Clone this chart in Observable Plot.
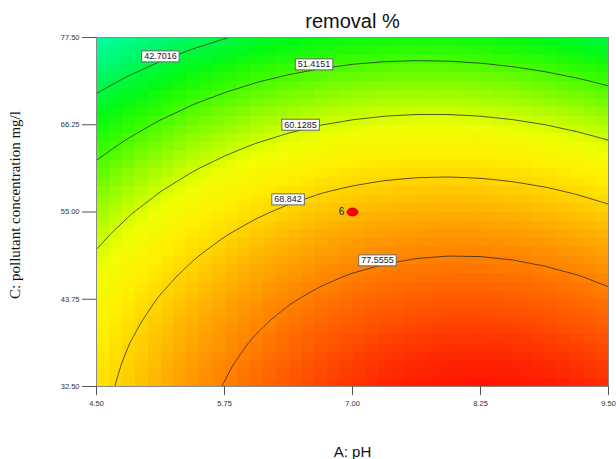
<!DOCTYPE html>
<html>
<head>
<meta charset="utf-8">
<script src="https://cdn.jsdelivr.net/npm/d3@7"></script>
<script src="https://cdn.jsdelivr.net/npm/@observablehq/plot@0.6"></script>
<style>
  html, body { margin: 0; padding: 0; background: #fff; }
  #chart svg { display: block; }
</style>
</head>
<body>
<div id="chart"></div>
<script>
// ---- data ----
const phLevels = [4.5, 4.8125, 5.125, 5.4375, 5.75, 6.0625, 6.375, 6.6875, 7,
                  7.3125, 7.625, 7.9375, 8.25, 8.5625, 8.875, 9.1875, 9.5];
const concLevels = [32.5, 35.3125, 38.125, 40.9375, 43.75, 46.5625, 49.375, 52.1875, 55,
                    57.8125, 60.625, 63.4375, 66.25, 69.0625, 71.875, 74.6875, 77.5];
// removal % estimated on the grid: one row per concLevels entry, one column per phLevels entry
const removal = [
  [67.09, 70.15, 72.94, 75.47, 77.73, 79.73, 81.47, 82.94, 84.15, 85.10, 85.78, 86.20, 86.35, 86.24, 85.87, 85.23, 84.33],
  [66.51, 69.53, 72.29, 74.79, 77.02, 78.98, 80.69, 82.13, 83.30, 84.21, 84.86, 85.25, 85.37, 85.22, 84.82, 84.15, 83.21],
  [65.73, 68.72, 71.45, 73.91, 76.10, 78.04, 79.71, 81.11, 82.25, 83.13, 83.75, 84.10, 84.18, 84.01, 83.57, 82.86, 81.89],
  [64.76, 67.71, 70.40, 72.83, 74.99, 76.89, 78.53, 79.90, 81.01, 81.85, 82.43, 82.75, 82.80, 82.59, 82.12, 81.38, 80.38],
  [63.58, 66.50, 69.16, 71.55, 73.68, 75.55, 77.15, 78.49, 79.56, 80.37, 80.92, 81.20, 81.22, 80.98, 80.47, 79.70, 78.66],
  [62.21, 65.10, 67.72, 70.08, 72.17, 74.01, 75.57, 76.88, 77.92, 78.70, 79.21, 79.46, 79.44, 79.17, 78.62, 77.82, 76.75],
  [60.64, 63.49, 66.08, 68.41, 70.47, 72.27, 73.80, 75.07, 76.08, 76.82, 77.30, 77.52, 77.47, 77.16, 76.58, 75.74, 74.64],
  [58.87, 61.69, 64.24, 66.54, 68.56, 70.33, 71.83, 73.07, 74.04, 74.75, 75.19, 75.38, 75.29, 74.95, 74.34, 73.47, 72.33],
  [56.90, 59.69, 62.21, 64.47, 66.46, 68.19, 69.66, 70.86, 71.80, 72.48, 72.89, 73.04, 72.92, 72.54, 71.90, 70.99, 69.82],
  [54.73, 57.49, 59.97, 62.20, 64.16, 65.86, 67.29, 68.46, 69.36, 70.01, 70.38, 70.50, 70.35, 69.94, 69.26, 68.32, 67.11],
  [52.37, 55.09, 57.54, 59.73, 61.66, 63.32, 64.72, 65.86, 66.73, 67.34, 67.68, 67.76, 67.58, 67.13, 66.42, 65.45, 64.21],
  [49.80, 52.49, 54.91, 57.07, 58.96, 60.59, 61.95, 63.06, 63.89, 64.47, 64.78, 64.83, 64.61, 64.13, 63.38, 62.38, 61.10],
  [47.04, 49.69, 52.08, 54.20, 56.06, 57.66, 58.99, 60.06, 60.86, 61.40, 61.68, 61.69, 61.44, 60.93, 60.15, 59.11, 57.80],
  [44.08, 46.70, 49.05, 51.14, 52.97, 54.53, 55.83, 56.86, 57.63, 58.14, 58.38, 58.36, 58.08, 57.53, 56.72, 55.64, 54.30],
  [40.92, 43.51, 45.83, 47.88, 49.67, 51.20, 52.47, 53.47, 54.20, 54.68, 54.89, 54.83, 54.51, 53.93, 53.09, 51.98, 50.60],
  [37.57, 40.12, 42.40, 44.42, 46.18, 47.68, 48.91, 49.87, 50.58, 51.02, 51.19, 51.10, 50.75, 50.14, 49.26, 48.11, 46.71],
  [34.01, 36.53, 38.78, 40.77, 42.49, 43.95, 45.15, 46.08, 46.75, 47.16, 47.30, 47.18, 46.79, 46.14, 45.23, 44.05, 42.75]
];
const contourLevels = [42.7016, 51.4151, 60.1285, 68.842, 77.5555];
const labelTexts = ["42.7016", "51.4151", "60.1285", "68.842", "77.5555"];
const labelPh = [5.124, 6.625, 6.493, 6.371, 7.244];
const labelConc = [75.05, 74.02, 66.24, 56.61, 48.75];
const centerPh = [7.0];
const centerConc = [55.0];
const centerCount = [6];
const xTicks = [4.5, 5.75, 7.0, 8.25, 9.5];
const yTicks = [32.5, 43.75, 55.0, 66.25, 77.5];
const title = "removal %";
const xLabel = "A: pH";
const yLabel = "C: pollutant concentration mg/l";

// colour ramp (blue-green → red, as in the reference)
const colorDomain = [34, 40, 46, 50, 56, 62, 66, 70, 74, 78, 82, 86.3];
const colorRange = ["#00ffa8", "#00f86a", "#00fa14", "#30fc00", "#90fc00", "#f0ff00",
                    "#ffef00", "#ffcd00", "#ffa500", "#ff7d00", "#ff5000", "#ff1400"];

// ---- tables built from the arrays ----
const samples = [];
concLevels.forEach((c, i) => phLevels.forEach((p, j) => samples.push({ph: p, conc: c, v: removal[i][j]})));
const labels = labelTexts.map((t, i) => ({text: t, ph: labelPh[i], conc: labelConc[i]}));
const centers = centerPh.map((p, i) => ({ph: p, conc: centerConc[i], n: centerCount[i]}));

const ellipse = {
  draw(ctx) {
    const rx = 5.5, ry = 4, k = 0.5523;
    ctx.moveTo(rx, 0);
    ctx.bezierCurveTo(rx, ry * k, rx * k, ry, 0, ry);
    ctx.bezierCurveTo(-rx * k, ry, -rx, ry * k, -rx, 0);
    ctx.bezierCurveTo(-rx, -ry * k, -rx * k, -ry, 0, -ry);
    ctx.bezierCurveTo(rx * k, -ry, rx, -ry * k, rx, 0);
    ctx.closePath();
  }
};

const bounds = {x1: 4.5, x2: 9.5, y1: 32.5, y2: 77.5};
const fmt = d3.format(".2f");

const chart = Plot.plot({
  width: 616,
  height: 459,
  marginLeft: 96,
  marginRight: 8,
  marginTop: 37,
  marginBottom: 73,
  style: {fontFamily: "'Liberation Sans', Arial, sans-serif", background: "#fff"},
  x: {domain: [4.5, 9.5]},
  y: {domain: [32.5, 77.5]},
  color: {type: "linear", domain: colorDomain, range: colorRange, clamp: true},
  marks: [
    Plot.raster(samples, {
      x: "ph", y: "conc", fill: "v", interpolate: "barycentric",
      ...bounds, width: 40, height: 40, imageRendering: "pixelated"
    }),
    Plot.contour(samples, {
      x: "ph", y: "conc", value: "v", interpolate: "barycentric",
      ...bounds, pixelSize: 1, thresholds: contourLevels,
      fill: "none", stroke: "#262626", strokeWidth: 0.9, strokeOpacity: 0.85
    }),
    Plot.frame({stroke: "#8a8a8a"}),
    Plot.axisX({ticks: xTicks, tickFormat: fmt, tickSize: 9, tickPadding: 5, fontSize: 7.5, fill: "#333", stroke: "#555", label: null}),
    Plot.axisY({ticks: yTicks, tickFormat: fmt, tickSize: 14, tickPadding: 3, fontSize: 7.5, fill: "#333", stroke: "#555", label: null}),
    Plot.text(labels, {x: "ph", y: "conc", text: "text", fontSize: 9, fill: "#222"}),
    Plot.dot(centers, {x: "ph", y: "conc", symbol: ellipse, fill: "#ff0000", stroke: "#b00000", strokeWidth: 0.8}),
    Plot.text(centers, {x: "ph", y: "conc", text: d => String(d.n), dx: -11, fontSize: 10, fill: "#222"}),
    Plot.text([title], {frameAnchor: "top", lineAnchor: "middle", dy: -16, fontSize: 20, fill: "#111"}),
    Plot.text([xLabel], {frameAnchor: "bottom", lineAnchor: "middle", dy: 66, fontSize: 15, fill: "#111"}),
    Plot.text([yLabel], {frameAnchor: "left", textAnchor: "middle", lineAnchor: "middle", dx: -81, dy: -7, rotate: -90,
                         fontSize: 15, fill: "#111", fontFamily: "'Liberation Serif', 'Times New Roman', serif"})
  ]
});

document.getElementById("chart").appendChild(chart);

// white boxes behind the contour labels
chart.querySelectorAll("text").forEach(t => {
  if (!labelTexts.includes(t.textContent)) return;
  const b = t.getBBox();
  const r = document.createElementNS("http://www.w3.org/2000/svg", "rect");
  r.setAttribute("x", b.x - 2.5);
  r.setAttribute("y", b.y - 0.5);
  r.setAttribute("width", b.width + 5);
  r.setAttribute("height", b.height + 1);
  r.setAttribute("fill", "#fff");
  r.setAttribute("stroke", "#666");
  r.setAttribute("stroke-width", "1");
  if (t.getAttribute("transform")) r.setAttribute("transform", t.getAttribute("transform"));
  t.parentNode.insertBefore(r, t);
});
</script>
</body>
</html>
